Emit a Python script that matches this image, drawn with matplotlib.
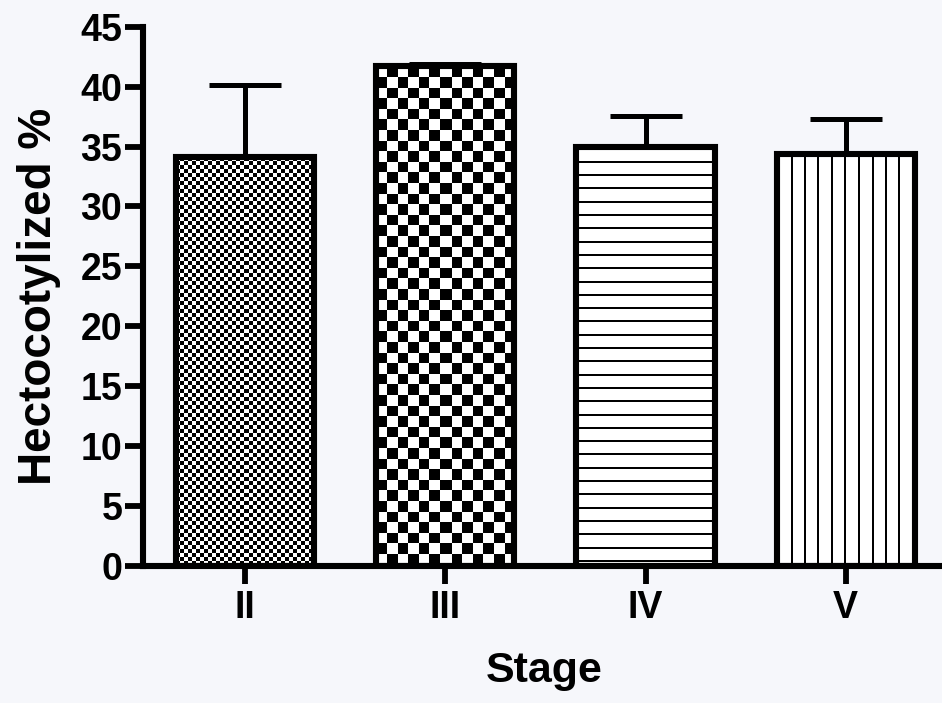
import matplotlib
matplotlib.use("Agg")
import matplotlib.pyplot as plt
import numpy as np

plt.rcParams["font.family"] = ["Liberation Sans", "DejaVu Sans"]
plt.rcParams["font.weight"] = "bold"

stages = ["II", "III", "IV", "V"]
values = [34.1, 41.7, 34.95, 34.4]
errors = [6.0, 0.2, 2.6, 2.9]
patterns = ["fine_check", "check", "hlines", "vlines"]

bg = "#f6f7fb"
fig = plt.figure(figsize=(9.42, 7.03), dpi=100, facecolor=bg)
ax = fig.add_axes([0.152, 0.195, 0.852, 0.767], facecolor=bg)

x = np.arange(len(stages))
bars = ax.bar(x, values, width=0.69, color="none", edgecolor="black",
              linewidth=4.4, zorder=3)
ax.errorbar(x, values, yerr=[np.zeros(len(errors)), errors], fmt="none",
            ecolor="black", elinewidth=3.6, capsize=26, capthick=3.6, zorder=2)

ax.set_xlim(-0.51, 3.5)
ax.set_ylim(0, 45)


def pattern_array(kind, h, w):
    i, j = np.mgrid[0:h, 0:w]
    if kind == "fine_check":
        return ((i // 4 + j // 4) % 2).astype(float)
    if kind == "check":
        return (((i / 10.6).astype(int) + (j / 10.6).astype(int)) % 2).astype(float)
    if kind == "hlines":
        return ((i % 13.3) < 2).astype(float)
    return ((j % 13.3) < 2).astype(float)


# fill each bar with its pattern, clipped to the bar outline
for bar, kind in zip(bars, patterns):
    bb = bar.get_window_extent()
    h, w = int(round(bb.height)), int(round(bb.width))
    arr = pattern_array(kind, h, w)
    x0 = bar.get_x()
    im = ax.imshow(arr, cmap="gray_r", vmin=0, vmax=1, interpolation="nearest",
                   extent=[x0, x0 + bar.get_width(), 0, bar.get_height()],
                   aspect="auto", zorder=2.5)
    im.set_clip_path(bar)

ax.set_xlim(-0.51, 3.5)
ax.set_ylim(0, 45)

for side in ["top", "right"]:
    ax.spines[side].set_visible(False)
for side in ["left", "bottom"]:
    ax.spines[side].set_linewidth(4.4)
ax.spines["bottom"].set_zorder(4)

ax.set_yticks(np.arange(0, 46, 5))
ax.set_xticks(x)
ax.set_xticklabels(stages)
ax.tick_params(axis="both", length=13, width=4.2, labelsize=27, pad=2)
ax.tick_params(axis="x", pad=4)

ax.set_xlabel("Stage", fontsize=31, fontweight="bold", labelpad=18)
ax.set_ylabel("Hectocotylized %", fontsize=33, fontweight="bold", labelpad=14)

fig.savefig("out.png", dpi=100, facecolor=bg)
